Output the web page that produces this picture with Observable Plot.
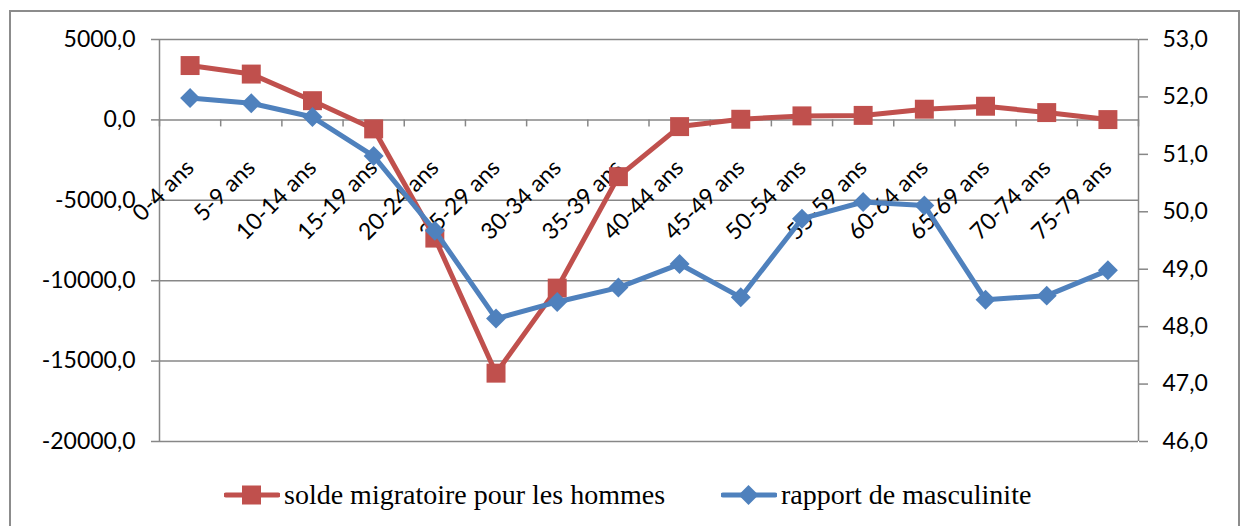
<!DOCTYPE html>
<html>
<head>
<meta charset="utf-8">
<script src="https://cdn.jsdelivr.net/npm/d3@7"></script>
<script src="https://cdn.jsdelivr.net/npm/@observablehq/plot@0.6"></script>
<style>
  html, body { margin: 0; padding: 0; background: #ffffff; }
  body { width: 1245px; height: 526px; overflow: hidden; position: relative; }
  #frame { position: absolute; left: 9px; top: 10px; width: 1231px; height: 540px; border: 2px solid #8c8c8c; box-sizing: border-box; }
  #chart { position: absolute; left: 0; top: 0; }
  #legend { position: absolute; left: 0; top: 478px; width: 1245px; height: 34px; font-family: "Liberation Serif", "Times New Roman", serif; font-size: 28px; color: #000; }
  .item { position: absolute; top: 0; height: 34px; display: flex; align-items: center; white-space: nowrap; }
  .item svg { display: block; margin-right: 4px; }
</style>
</head>
<body>
<div id="frame"></div>
<div id="chart"></div>
<div id="legend"></div>
<script>
// ---- data ----
const categories = ["0-4 ans", "5-9 ans", "10-14 ans", "15-19 ans", "20-24 ans", "25-29 ans", "30-34 ans", "35-39 ans",
  "40-44 ans", "45-49 ans", "50-54 ans", "55-59 ans", "60-64 ans", "65-69 ans", "70-74 ans", "75-79 ans"];
const soldeMigratoire = [3380, 2850, 1195, -560, -7350, -15750, -10460, -3530, -417, 40, 250, 280, 665, 850, 455, 20];
const rapportMasculinite = [51.98, 51.89, 51.65, 50.97, 49.67, 48.14, 48.43, 48.68, 49.09, 48.51, 49.88, 50.17, 50.11, 48.47, 48.54, 48.98];
const leftTicks = [5000, 0, -5000, -10000, -15000, -20000];
const rightTicks = [46, 47, 48, 49, 50, 51, 52, 53];
const leftDomain = [-20000, 5000];
const rightDomain = [46, 53];
const seriesNames = ["solde migratoire pour les hommes", "rapport de masculinite"];

// ---- styles ----
const RED = "#C0504D", BLUE = "#4F81BD", GRAY = "#878787";

const toLeft = v => leftDomain[0] + (v - rightDomain[0]) / (rightDomain[1] - rightDomain[0]) * (leftDomain[1] - leftDomain[0]);
const fromLeft = v => rightDomain[0] + (v - leftDomain[0]) / (leftDomain[1] - leftDomain[0]) * (rightDomain[1] - rightDomain[0]);
const fmt = v => (Math.round(v * 10) / 10).toFixed(1).replace(".", ",");

const rows = categories.map((c, i) => ({
  cat: c, pos: i + 0.5, solde: soldeMigratoire[i], rapport: toLeft(rapportMasculinite[i])
}));
const boundaries = d3.range(categories.length + 1);

const chart = Plot.plot({
  width: 1245,
  height: 460,
  marginLeft: 159,
  marginRight: 107,
  marginTop: 39,
  marginBottom: 19,
  x: { domain: [0, categories.length], axis: null },
  y: { domain: leftDomain, axis: null },
  style: { fontFamily: "Lato, 'Liberation Sans', sans-serif", fontSize: "23px", color: "#000", background: "transparent" },
  marks: [
    Plot.ruleY(leftTicks, { stroke: GRAY, strokeWidth: 1.5 }),
    Plot.ruleX([0, categories.length], { stroke: GRAY, strokeWidth: 1.5 }),
    Plot.ruleX(boundaries, { x: d => d, y1: () => 0, y2: () => 0, insetBottom: -7, stroke: GRAY, strokeWidth: 1.5 }),
    Plot.axisY(leftTicks, { anchor: "left", tickSize: 8, tickPadding: 16, tickFormat: fmt, stroke: GRAY, strokeWidth: 1.5, fill: "#000", fontSize: 23 }),
    Plot.axisY(rightTicks.map(toLeft), { anchor: "right", tickSize: 9, tickPadding: 15, tickFormat: d => fmt(fromLeft(d)), stroke: GRAY, strokeWidth: 1.5, fill: "#000", fontSize: 23 }),
    Plot.text(rows, { x: "pos", y: () => 0, text: "cat", rotate: -45, textAnchor: "end", dx: 0, dy: 44, fontSize: 23, fill: "#000" }),
    Plot.line(rows, { x: "pos", y: "solde", stroke: RED, strokeWidth: 5 }),
    Plot.dot(rows, { x: "pos", y: "solde", symbol: "square", r: 10.7, fill: RED, stroke: "none" }),
    Plot.line(rows, { x: "pos", y: "rapport", stroke: BLUE, strokeWidth: 5 }),
    Plot.dot(rows, { x: "pos", y: "rapport", symbol: "diamond2", r: 9, fill: BLUE, stroke: "none" })
  ]
});
document.getElementById("chart").appendChild(chart);

// ---- legend ----
const legend = document.getElementById("legend");
const swatch = (color, shape) => {
  const marker = shape === "square"
    ? `<rect x="18" y="7.5" width="19" height="19" fill="${color}"/>`
    : `<path d="M27.5,7 L37.5,17 L27.5,27 L17.5,17 Z" fill="${color}"/>`;
  return `<svg width="56" height="34" viewBox="0 0 56 34"><line x1="2" y1="17" x2="54" y2="17" stroke="${color}" stroke-width="5" stroke-linecap="round"/>${marker}</svg>`;
};
const items = [
  { name: seriesNames[0], color: RED, shape: "square", left: 224 },
  { name: seriesNames[1], color: BLUE, shape: "diamond", left: 721 }
];
items.forEach(it => {
  const d = document.createElement("div");
  d.className = "item";
  d.style.left = it.left + "px";
  d.innerHTML = swatch(it.color, it.shape) + `<span>${it.name}</span>`;
  legend.appendChild(d);
});
</script>
</body>
</html>
